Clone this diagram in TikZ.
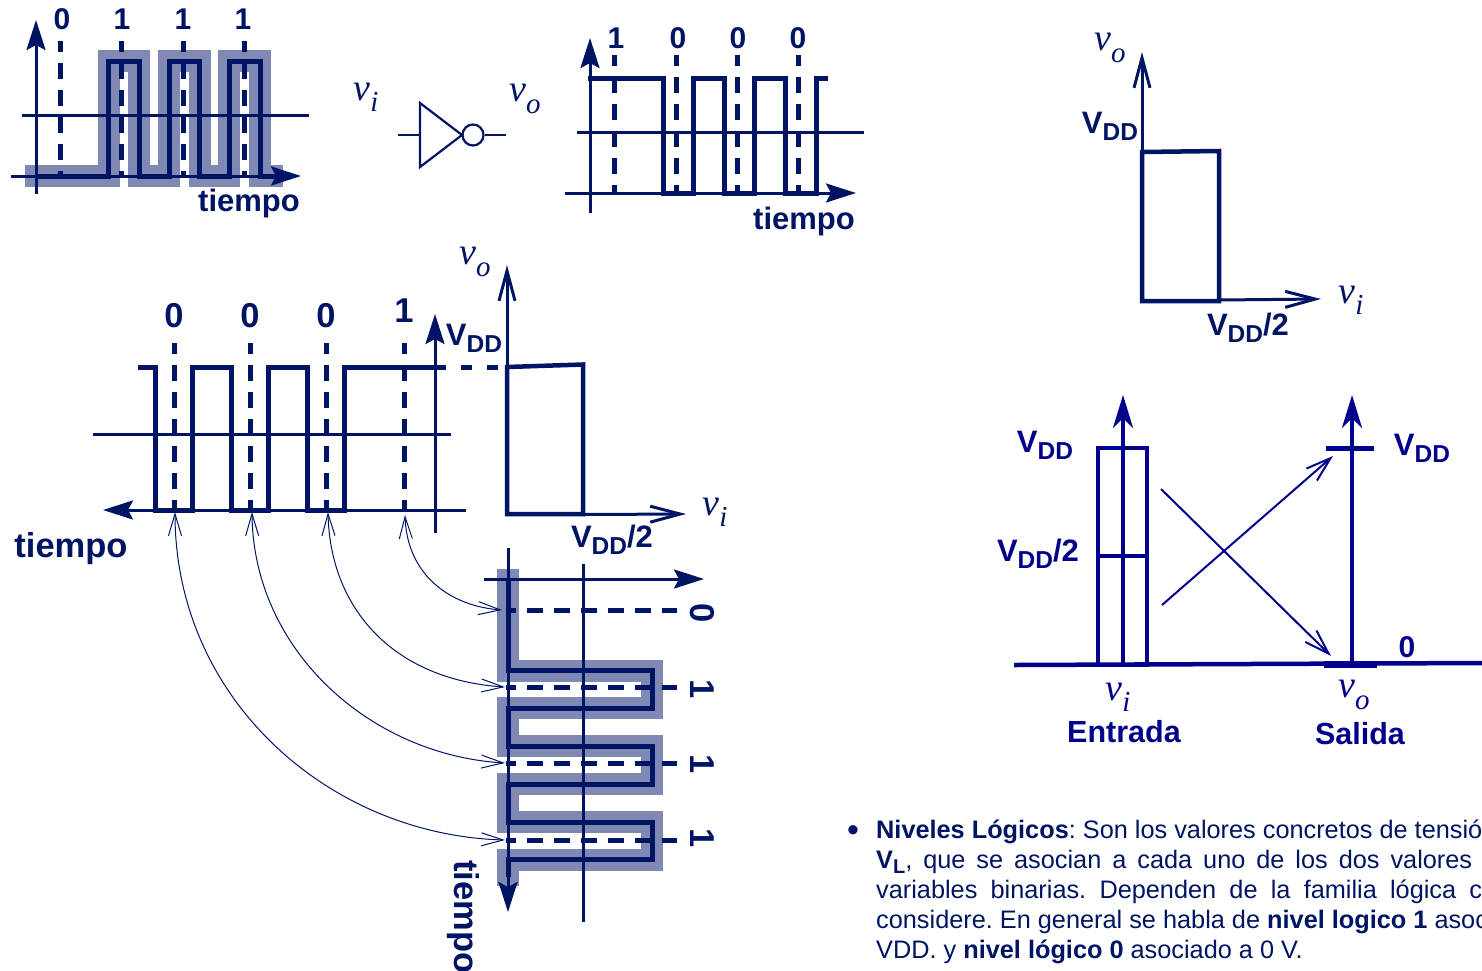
\documentclass[tikz,border=0pt]{standalone}
\usepackage{fontspec}
\setmainfont{Liberation Sans}
\newfontfamily\vfamily{Liberation Serif}
\usepackage{xcolor}
\usetikzlibrary{positioning,arrows.meta,calc}
\definecolor{navy}{RGB}{0,20,100}
\definecolor{halo}{RGB}{128,136,180}
\definecolor{royal}{RGB}{0,0,140}
\newcommand{\vlab}[1]{{\vfamily\itshape v\raisebox{-.3em}{\fontsize{29}{29}\selectfont #1}}}
\newcommand{\vsub}[1]{V\raisebox{-.22em}{\fontsize{24.5}{24.5}\selectfont #1}}

\begin{document}
\begin{tikzpicture}[
		x=1pt, y=-1pt,
		navy,
		bit/.style={inner sep=0pt, font=\fontsize{30}{32}\bfseries\selectfont},
		bigbit/.style={inner sep=0pt, font=\fontsize{34.5}{36}\bfseries\selectfont},
		volt/.style={inner sep=0pt, font=\fontsize{31}{33}\bfseries\selectfont},
		sig/.style={inner sep=0pt, font=\fontsize{38}{40}\selectfont},
		para/.style={inner sep=0pt, anchor=base west, font=\fontsize{25.3}{30}\selectfont},
		axis/.style={line width=3pt},
		axisarr/.style={axis, -{Stealth[length=30pt,width=19pt,inset=5pt]}},
		openarr/.style={axis, -{Straight Barb[length=30pt,width=16pt]}},
		wave/.style={line width=5pt, miter limit=10},
		shade/.style={line width=22pt, halo, miter limit=10},
		tick/.style={line width=5pt, dash pattern=on 16pt off 11pt, dash phase=5pt},
		inv/.style={line width=2.2pt},
		tap/.style={line width=1pt, {Straight Barb[length=22pt,width=13pt]}-{Straight Barb[length=22pt,width=13pt]}},
		level/.style={royal, line width=4.5pt},
		levelarr/.style={royal, line width=4.5pt, -{Stealth[length=33pt,width=20pt,inset=10pt]}},
		map/.style={royal, line width=2pt, -{Straight Barb[length=25pt,width=16pt]}}
		]
		\useasboundingbox (0,0) rectangle (1482,970);
		\clip (0,0) rectangle (1482,970);
		% top left: input signal
		\draw[shade] (25,176) -- (108.5,176) -- (108.5,61) -- (139,61) -- (139,176) -- (169,176)
		-- (169,61) -- (199.5,61) -- (199.5,176) -- (229,176) -- (229,61) -- (260,61) -- (260,176) -- (283,176);
		\draw[tick] (60,41) -- (60,176);
		\draw[tick] (121,41) -- (121,176);
		\draw[tick] (183,41) -- (183,176);
		\draw[tick] (244,41) -- (244,176);
		\draw[axisarr] (36,194) -- (36,20);
		\draw[axisarr] (11,176) -- (301,176);
		\draw[axis] (22,115) -- (309,115);
		\draw[wave] (36,176) -- (108.5,176) -- (108.5,61) -- (139,61) -- (139,176) -- (169,176)
		-- (169,61) -- (199.5,61) -- (199.5,176) -- (229,176) -- (229,61) -- (260,61) -- (260,176) -- (275,176);
		\node[bit] (ina) at (62,19) {0};
		\node[bit] (inb) at (122,19) {1};
		\node[bit] (inc) at (183,19) {1};
		\node[bit] (ind) at (243,19) {1};
		\node[volt] (tin) at (249,203) {tiempo};
		% inverter
		\draw[inv] (420,103) -- (420,167) -- (462,135) -- cycle;
		\node[draw, circle, line width=2.2pt, minimum size=21pt, inner sep=0pt] (bubble) at (473,135) {};
		\coordinate (invin) at (398,135);
		\coordinate (invout) at (506,135);
		\draw[inv] (invin) -- (421,135);
		\draw[inv] (bubble.east) -- (invout);
		\node[sig] (vitop) at (366,97) {\vlab{i}};
		\node[sig] (votop) at (525,99) {\vlab{o}};
		% top middle: output signal
		\draw[tick] (614,55) -- (614,193);
		\draw[tick] (676,55) -- (676,193);
		\draw[tick] (737,55) -- (737,193);
		\draw[tick] (798,55) -- (798,193);
		\draw[axisarr] (590,213) -- (590,38);
		\draw[axisarr] (565,193) -- (856,193);
		\draw[axis] (577,132) -- (864,132);
		\draw[wave] (588,78) -- (663,78) -- (663,193) -- (693,193) -- (693,78) -- (724,78) -- (724,193)
		-- (754,193) -- (754,78) -- (785,78) -- (785,193) -- (816,193) -- (816,78) -- (828,78);
		\node[bit] (outa) at (616,38) {1};
		\node[bit] (outb) at (678,38) {0};
		\node[bit] (outc) at (738,38) {0};
		\node[bit] (outd) at (798,38) {0};
		\node[volt] (tout) at (804,221) {tiempo};
		% top right: transfer curve
		\draw[openarr] (1142,301) -- (1142,52);
		\draw[openarr] (1219,300) -- (1321,299);
		\draw[wave, line width=4.5pt] (1142,152) -- (1219,151) -- (1219,301) -- (1142,301) -- cycle;
		\node[sig] (vorig) at (1110,48) {\vlab{o}};
		\node[volt] (vddrig) at (1110,126) {\vsub{DD}};
		\node[volt] (halfrig) at (1248,328) {\vsub{DD}/2};
		\node[sig] (virig) at (1351,300) {\vlab{i}};
		% centre: output signal mirrored onto the curve
		\draw[tick] (174,343) -- (174,510);
		\draw[tick] (250,343) -- (250,510);
		\draw[tick] (326,343) -- (326,510);
		\draw[tick] (404,343) -- (404,510);
		\draw[axisarr] (435,533) -- (435,314);
		\draw[axisarr] (466,510) -- (103,510);
		\draw[axis] (93,434) -- (451,434);
		\draw[wave] (138,367) -- (155,367) -- (155,510) -- (192,510) -- (192,367) -- (231,367) -- (231,510)
		-- (268,510) -- (268,367) -- (307,367) -- (307,510) -- (344,510) -- (344,367) -- (435,367);
		\draw[line width=5pt, dash pattern=on 11pt off 15pt] (435,367.5) -- (507,367.5);
		\node[bigbit] (mira) at (174,316) {0};
		\node[bigbit] (mirb) at (250,316) {0};
		\node[bigbit] (mirc) at (326,316) {0};
		\node[bigbit] (mird) at (404,311) {1};
		\node[volt] (vddmir) at (474,338) {\vsub{DD}};
		\node[bigbit] (tmir) at (71,549) {tiempo};
		% centre: transfer curve
		\draw[openarr] (507,514) -- (507,265);
		\draw[openarr] (583,514.5) -- (686,514);
		\draw[wave, line width=4.5pt] (507,367) -- (583,364.5) -- (583,514) -- (507,514) -- cycle;
		\node[sig] (vomid) at (475,262) {\vlab{o}};
		\node[sig] (vimid) at (715,512) {\vlab{i}};
		\node[volt] (halfmid) at (612,540) {\vsub{DD}/2};
		% bottom: input signal turned on its side
		\draw[shade] (508,569) -- (508,670.5) -- (652,670.5) -- (652,708) -- (508,708) -- (508,746) -- (652,746)
		-- (652,784) -- (508,784) -- (508,822) -- (652,822) -- (652,859.5) -- (508,859.5) -- (508,886);
		\draw[tick, dash phase=6pt] (506,610) -- (677,610);
		\draw[tick, dash phase=6pt] (506,687) -- (677,687);
		\draw[tick, dash phase=6pt] (506,763) -- (677,763);
		\draw[tick, dash phase=6pt] (506,840) -- (677,840);
		\draw[axisarr] (508,548) -- (508,912);
		\draw[axisarr] (484,579) -- (704,579);
		\draw[axis] (583,564) -- (583,922);
		\draw[wave] (508,579) -- (508,670.5) -- (652,670.5) -- (652,708) -- (508,708) -- (508,746) -- (652,746)
		-- (652,784) -- (508,784) -- (508,822) -- (652,822) -- (652,859.5) -- (508,859.5) -- (508,877);
		\node[bigbit, rotate=-90] (sidea) at (702,613) {0};
		\node[bigbit, rotate=-90] (sideb) at (702,689) {1};
		\node[bigbit, rotate=-90] (sidec) at (702,764) {1};
		\node[bigbit, rotate=-90] (sided) at (702,838) {1};
		\node[bigbit, rotate=-90, anchor=north west] (tside) at (480,860) {tiempo};
		% links from the time axis to the bits on the side
		\coordinate (fromd) at (405,515);
		\coordinate (fromc) at (328,512);
		\coordinate (fromb) at (252,512);
		\coordinate (froma) at (175,512);
		\coordinate (tod) at (502,610);
		\coordinate (toc) at (505,687);
		\coordinate (tob) at (505,763);
		\coordinate (toa) at (505,840);
		\draw[tap] (fromd) .. controls (407,575) and (450,606) .. (tod);
		\draw[tap] (fromc) .. controls (330,610) and (395,680) .. (toc);
		\draw[tap] (fromb) .. controls (253,650) and (370,755) .. (tob);
		\draw[tap] (froma) .. controls (175,700) and (330,835) .. (toa);
		% bottom right: logic levels
		\draw[level] (1014,665) -- (1482,663);
		\draw[royal, line width=4pt] (1098,448) rectangle (1147,665);
		\draw[royal, line width=4pt] (1098,556) -- (1147,556);
		\draw[levelarr] (1123,665) -- (1123,395);
		\draw[levelarr] (1352,663) -- (1352,395);
		\draw[royal, line width=5pt] (1326,448) -- (1374,448);
		\draw[royal, line width=7pt] (1324,664) -- (1377,664);
		\coordinate (lowin) at (1162,605);
		\coordinate (highout) at (1333,456);
		\coordinate (highin) at (1161,489);
		\coordinate (lowout) at (1331,656);
		\draw[map] (lowin) -- (highout);
		\draw[map] (highin) -- (lowout);
		\node[volt, royal] (vddin) at (1045,445) {\vsub{DD}};
		\node[volt, royal] (halfin) at (1038,554) {\vsub{DD}/2};
		\node[volt, royal] (vddout) at (1422,448) {\vsub{DD}};
		\node[bit, royal] (zeroout) at (1407,647) {0};
		\node[sig, royal] (viin) at (1118,697) {\vlab{i}};
		\node[sig, royal] (voout) at (1354,695) {\vlab{o}};
		\node[volt, royal, font=\fontsize{30.5}{33}\bfseries\selectfont] (entrada) at (1124,732) {Entrada};
		\node[volt, royal, font=\fontsize{30.5}{33}\bfseries\selectfont] (salida) at (1360,734) {Salida};
		% text at the bottom
		\node[para, font=\fontsize{34}{30}\selectfont] (bullet) at (847,841) {\textbullet};
		\node[para] (lineone) at (876,838.5) {\frenchspacing\textbf{Niveles Lógicos}: Son los valores concretos de tensió};
		\node[para] (linetwo) at (876,868.5) {\frenchspacing\makebox[596pt][s]{\textbf{V\raisebox{-.2em}{\fontsize{20}{20}\selectfont L}}, que se asocian a cada uno de los dos valores}};
		\node[para] (linethree) at (876,898.5) {\frenchspacing\makebox[606pt][s]{variables binarias. Dependen de la familia lógica c}};
		\node[para] (linefour) at (876,928.5) {\frenchspacing considere. En general se habla de \textbf{nivel logico 1} asoc};
		\node[para] (linefive) at (876,958.5) {\frenchspacing VDD. y \textbf{nivel lógico 0} asociado a 0 V.};
	\end{tikzpicture}
\end{document}
